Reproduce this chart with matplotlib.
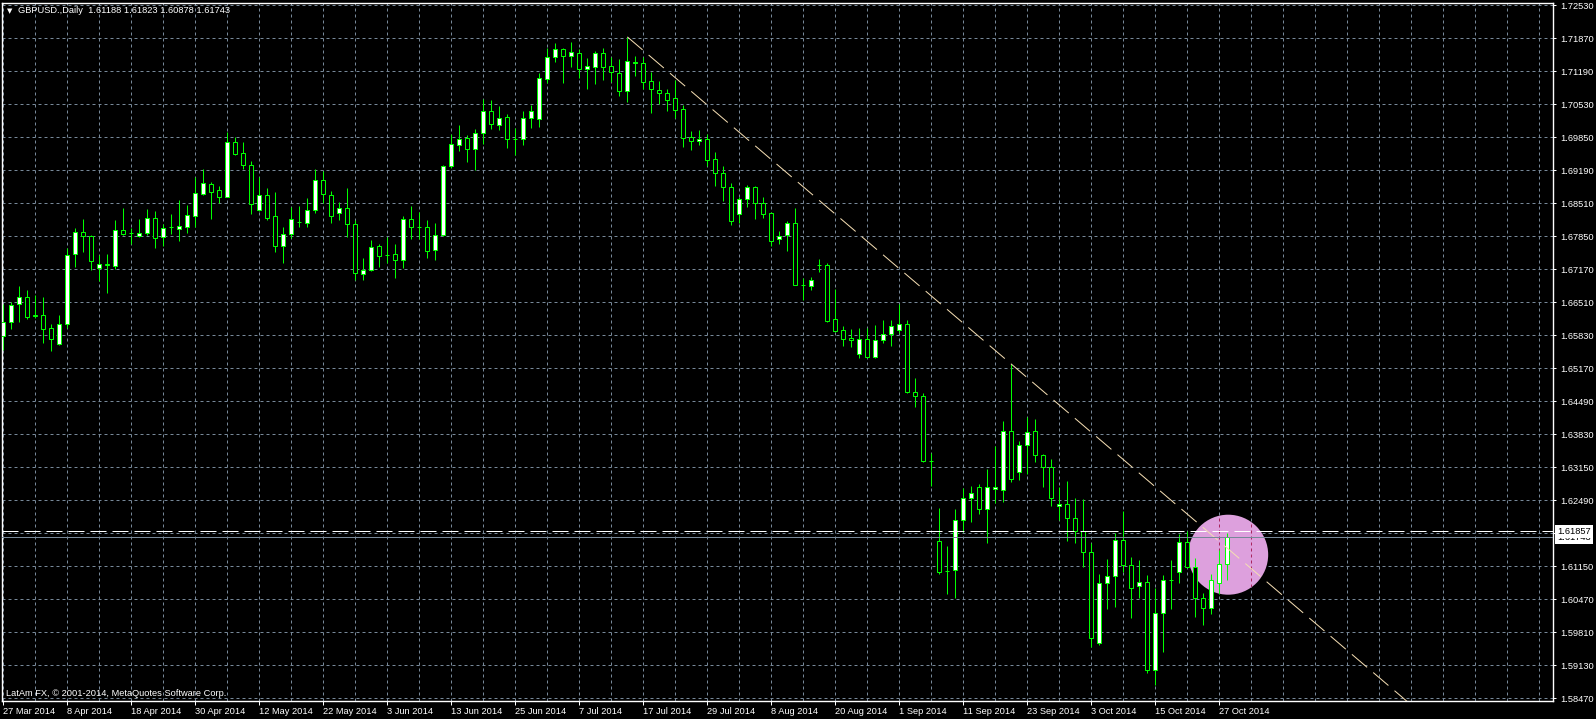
import numpy as np
import matplotlib
matplotlib.use("Agg")
import matplotlib.pyplot as plt
from matplotlib.patches import Ellipse

# GBPUSD daily bars, 27 Mar 2014 .. 28 Oct 2014 (one per business day)
opens = [1.6582, 1.6610, 1.6648, 1.6662, 1.6624, 1.6625, 1.6598, 1.6565, 1.6606, 1.6748,
         1.6793, 1.6785, 1.6721, 1.6728, 1.6725, 1.6797, 1.6792, 1.6785, 1.6791, 1.6821,
         1.6782, 1.6803, 1.6800, 1.6804, 1.6826, 1.6871, 1.6890, 1.6878, 1.6865, 1.6975,
         1.6953, 1.6930, 1.6837, 1.6868, 1.6825, 1.6765, 1.6789, 1.6814, 1.6812, 1.6837,
         1.6898, 1.6868, 1.6831, 1.6841, 1.6809, 1.6708, 1.6715, 1.6764, 1.6747, 1.6748,
         1.6736, 1.6819, 1.6803, 1.6803, 1.6756, 1.6786, 1.6927, 1.6970, 1.6983, 1.6962,
         1.6993, 1.7038, 1.7011, 1.7026, 1.6982, 1.6981, 1.7024, 1.7022, 1.7103, 1.7148,
         1.7164, 1.7151, 1.7156, 1.7124, 1.7128, 1.7156, 1.7129, 1.7115, 1.7080, 1.7135,
         1.7135, 1.7099, 1.7081, 1.7075, 1.7064, 1.7042, 1.6985, 1.6978, 1.6982, 1.6941,
         1.6912, 1.6884, 1.6829, 1.6861, 1.6884, 1.6851, 1.6832, 1.6778, 1.6786, 1.6811,
         1.6686, 1.6684, 1.6726, 1.6726, 1.6616, 1.6594, 1.6579, 1.6545, 1.6577, 1.6539,
         1.6575, 1.6586, 1.6594, 1.6606, 1.6468, 1.6460, 1.6329, 1.6166, 1.6105, 1.6107,
         1.6208, 1.6253, 1.6275, 1.6232, 1.6271, 1.6269, 1.6389, 1.6306, 1.6360, 1.6389,
         1.6340, 1.6316, 1.6237, 1.6241, 1.6212, 1.6186, 1.6143, 1.5960, 1.6082, 1.6095,
         1.6168, 1.6117, 1.6074, 1.6084, 1.5904, 1.6020, 1.6087, 1.6103, 1.6164, 1.6113,
         1.6050, 1.6030, 1.6082, 1.61188]
highs = [1.6648, 1.6652, 1.6684, 1.6675, 1.6665, 1.6662, 1.6606, 1.6625, 1.6760, 1.6801,
         1.6820, 1.6787, 1.6746, 1.6748, 1.6817, 1.6841, 1.6801, 1.6820, 1.6840, 1.6836,
         1.6809, 1.6830, 1.6858, 1.6848, 1.6905, 1.6920, 1.6895, 1.6886, 1.6995, 1.6985,
         1.6975, 1.6937, 1.6905, 1.6882, 1.6874, 1.6804, 1.6843, 1.6846, 1.6863, 1.6920,
         1.6917, 1.6876, 1.6853, 1.6882, 1.6817, 1.6740, 1.6777, 1.6768, 1.6782, 1.6768,
         1.6826, 1.6846, 1.6834, 1.6817, 1.6811, 1.6930, 1.6992, 1.7010, 1.6990, 1.7002,
         1.7063, 1.7061, 1.7049, 1.7032, 1.7004, 1.7039, 1.7051, 1.7116, 1.7166, 1.7176,
         1.7166, 1.7178, 1.7164, 1.7146, 1.7160, 1.7166, 1.7149, 1.7144, 1.7189, 1.7150,
         1.7149, 1.7118, 1.7099, 1.7083, 1.7101, 1.7051, 1.6997, 1.7000, 1.6992, 1.6955,
         1.6927, 1.6892, 1.6865, 1.6888, 1.6887, 1.6865, 1.6834, 1.6795, 1.6815, 1.6841,
         1.6699, 1.6701, 1.6738, 1.6730, 1.6677, 1.6602, 1.6596, 1.6598, 1.6598, 1.6604,
         1.6615, 1.6615, 1.6648, 1.6615, 1.6496, 1.6466, 1.6344, 1.6233, 1.6156, 1.6231,
         1.6273, 1.6278, 1.6282, 1.6312, 1.6359, 1.6410, 1.6525, 1.6369, 1.6418, 1.6414,
         1.6342, 1.6333, 1.6276, 1.6288, 1.6253, 1.6251, 1.6163, 1.6099, 1.6130, 1.6182,
         1.6227, 1.6134, 1.6128, 1.6097, 1.6070, 1.6097, 1.6128, 1.6180, 1.6187, 1.6131,
         1.6060, 1.6099, 1.6148, 1.61823]
lows = [1.6554, 1.6597, 1.6611, 1.6617, 1.6618, 1.6568, 1.6552, 1.6564, 1.6598, 1.6723,
        1.6753, 1.6717, 1.6694, 1.6670, 1.6719, 1.6787, 1.6769, 1.6782, 1.6786, 1.6761,
        1.6765, 1.6789, 1.6775, 1.6792, 1.6804, 1.6869, 1.6820, 1.6851, 1.6864, 1.6950,
        1.6921, 1.6830, 1.6836, 1.6818, 1.6753, 1.6731, 1.6780, 1.6804, 1.6803, 1.6831,
        1.6852, 1.6812, 1.6817, 1.6782, 1.6696, 1.6696, 1.6713, 1.6723, 1.6731, 1.6699,
        1.6721, 1.6779, 1.6779, 1.6740, 1.6736, 1.6784, 1.6922, 1.6958, 1.6936, 1.6919,
        1.6972, 1.7002, 1.7000, 1.6964, 1.6950, 1.6970, 1.7005, 1.7007, 1.7095, 1.7139,
        1.7096, 1.7128, 1.7106, 1.7084, 1.7093, 1.7101, 1.7097, 1.7068, 1.7057, 1.7110,
        1.7083, 1.7035, 1.7053, 1.7039, 1.7024, 1.6965, 1.6959, 1.6970, 1.6927, 1.6887,
        1.6857, 1.6807, 1.6811, 1.6844, 1.6820, 1.6822, 1.6765, 1.6769, 1.6755, 1.6685,
        1.6655, 1.6675, 1.6711, 1.6611, 1.6591, 1.6562, 1.6559, 1.6537, 1.6537, 1.6537,
        1.6567, 1.6562, 1.6588, 1.6466, 1.6439, 1.6327, 1.6278, 1.6099, 1.6059, 1.6051,
        1.6185, 1.6204, 1.6220, 1.6162, 1.6244, 1.6246, 1.6285, 1.6289, 1.6302, 1.6327,
        1.6276, 1.6237, 1.6209, 1.6167, 1.6162, 1.6113, 1.5952, 1.5955, 1.6028, 1.6032,
        1.6103, 1.6009, 1.6051, 1.5898, 1.5874, 1.5942, 1.6029, 1.6080, 1.6111, 1.6011,
        1.5995, 1.6018, 1.6059, 1.60878]
closes = [1.6611, 1.6645, 1.6662, 1.6621, 1.6622, 1.6597, 1.6577, 1.6606, 1.6746, 1.6793,
          1.6784, 1.6735, 1.6728, 1.6727, 1.6797, 1.6790, 1.6792, 1.6791, 1.6821, 1.6780,
          1.6801, 1.6803, 1.6805, 1.6827, 1.6872, 1.6892, 1.6875, 1.6865, 1.6975, 1.6952,
          1.6930, 1.6849, 1.6868, 1.6822, 1.6765, 1.6789, 1.6819, 1.6814, 1.6837, 1.6898,
          1.6870, 1.6825, 1.6841, 1.6809, 1.6709, 1.6716, 1.6762, 1.6745, 1.6747, 1.6736,
          1.6819, 1.6804, 1.6803, 1.6755, 1.6786, 1.6928, 1.6971, 1.6981, 1.6962, 1.6993,
          1.7038, 1.7013, 1.7025, 1.6982, 1.6982, 1.7024, 1.7038, 1.7105, 1.7149, 1.7164,
          1.7151, 1.7159, 1.7124, 1.7129, 1.7156, 1.7128, 1.7118, 1.7080, 1.7141, 1.7139,
          1.7098, 1.7084, 1.7075, 1.7061, 1.7041, 1.6984, 1.6978, 1.6981, 1.6940, 1.6912,
          1.6884, 1.6816, 1.6861, 1.6884, 1.6851, 1.6830, 1.6775, 1.6784, 1.6811, 1.6686,
          1.6686, 1.6696, 1.6726, 1.6613, 1.6593, 1.6577, 1.6573, 1.6577, 1.6539, 1.6575,
          1.6586, 1.6602, 1.6606, 1.6468, 1.6460, 1.6329, 1.6329, 1.6103, 1.6105, 1.6208,
          1.6253, 1.6263, 1.6232, 1.6275, 1.6275, 1.6389, 1.6291, 1.6360, 1.6387, 1.6340,
          1.6316, 1.6253, 1.6241, 1.6212, 1.6186, 1.6143, 1.5969, 1.6082, 1.6095, 1.6168,
          1.6117, 1.6070, 1.6084, 1.5904, 1.6020, 1.6087, 1.6087, 1.6164, 1.6113, 1.6050,
          1.6030, 1.6087, 1.6119, 1.61743]

date_labels = ["27 Mar 2014", "8 Apr 2014", "18 Apr 2014", "30 Apr 2014", "12 May 2014",
               "22 May 2014", "3 Jun 2014", "13 Jun 2014", "25 Jun 2014", "7 Jul 2014",
               "17 Jul 2014", "29 Jul 2014", "8 Aug 2014", "20 Aug 2014", "1 Sep 2014",
               "11 Sep 2014", "23 Sep 2014", "3 Oct 2014", "15 Oct 2014", "27 Oct 2014"]

grid_prices = [1.72530, 1.71861, 1.71191, 1.70522, 1.69852, 1.69183, 1.68513, 1.67844,
               1.67174, 1.66505, 1.65835, 1.65166, 1.64496, 1.63827, 1.63157, 1.62488,
               1.61818, 1.61149, 1.60479, 1.59810, 1.59140, 1.58471]
price_labels = ["1.72530", "1.71870", "1.71190", "1.70530", "1.69850", "1.69190", "1.68510",
                "1.67850", "1.67170", "1.66510", "1.65830", "1.65170", "1.64490", "1.63830",
                "1.63150", "1.62490", "", "1.61150", "1.60470", "1.59810", "1.59130", "1.58470"]

level_price = 1.61857
trend_from, trend_to = 78, 126   # bars whose highs the trendline joins

plt.rcParams['font.family'] = ['Liberation Sans', 'DejaVu Sans']
FS = 6.7
PX = 0.72            # one pixel in points at dpi 100
LIME = '#00FF00'
GRID = '#778899'

W, H = 1596, 719
fig = plt.figure(figsize=(W / 100, H / 100), dpi=100, facecolor='black')
ax = fig.add_axes([2 / W, 1 - 700.7 / H, 1551 / W, 698 / H])
ax.set_facecolor('black')
ax.set_xlim(-0.16, 193.7)
ax.set_ylim(1.58422, 1.72583)

# dashed grid
for p in grid_prices:
    ax.axhline(p, color=GRID, lw=PX, ls=(0, (3, 3)), zorder=1)
vgrid = list(range(0, 194, 4))
for b in vgrid:
    ax.axvline(b, color=GRID, lw=PX, ls=(0, (3, 3)), zorder=1)

# highlight circle
circle = Ellipse((153.1, 1.61384), 10, 0.01623, facecolor='#DDA0DD', edgecolor='none', zorder=1.5)
ax.add_patch(circle)
for b in vgrid:
    ln = ax.axvline(b, color='#A8245E', lw=PX, ls=(0, (3, 3)), zorder=1.6)
    ln.set_clip_path(circle)

# candles
x = np.arange(len(opens))
o = np.array(opens)
c = np.array(closes)
fills = ['white' if cc > oo else 'black' for oo, cc in zip(o, c)]
ax.vlines(x, lows, highs, color=LIME, lw=PX, zorder=2)
ax.bar(x, c - o, bottom=o, width=0.5, color=fills, edgecolor=LIME, linewidth=PX, zorder=3)

# trendline through two highs
slope = (highs[trend_to] - highs[trend_from]) / (trend_to - trend_from)
tx = np.array([trend_from, 200])
ax.plot(tx, highs[trend_from] + slope * (tx - trend_from), color='#F5DEB3', lw=PX,
        ls=(0, (20, 8)), zorder=4)

# horizontal level and bid line
ax.axhline(level_price, color='white', lw=PX, ls=(0, (16, 6)), zorder=4)
ax.axhline(closes[-1], color=GRID, lw=PX, zorder=4)

for s in ax.spines.values():
    s.set_color('white')
    s.set_linewidth(PX * 1.4)

ax.yaxis.tick_right()
ax.set_yticks(grid_prices)
ax.set_yticklabels(price_labels)
ax.set_xticks(range(0, 8 * len(date_labels), 8))
ax.set_xticklabels(date_labels, ha='left')
ax.tick_params(axis='both', colors='white', labelcolor='white', labelsize=FS, width=PX)
ax.tick_params(axis='y', length=2.5, pad=2.5)
ax.tick_params(axis='x', length=3, pad=1.5)

# price boxes on the right scale
for val, txt in [(closes[-1], f"{closes[-1]:.5f}"), (level_price, f"{level_price:.5f}")]:
    ax.annotate(txt, xy=(1, val), xycoords=('axes fraction', 'data'), xytext=(3, 0),
                textcoords='offset points', ha='left', va='center', fontsize=FS, color='black',
                annotation_clip=False, zorder=6,
                bbox=dict(boxstyle='square,pad=0.25', fc='white', ec='none'))

# header and footer
fig.text(7 / W, 1 - 10.7 / H, '\u25bc', color='white', fontsize=5, va='center',
         family='DejaVu Sans')
fig.text(18 / W, 1 - 10.7 / H,
         f"GBPUSD.,Daily  {opens[-1]:.5f} {highs[-1]:.5f} {lows[-1]:.5f} {closes[-1]:.5f}",
         color='white', fontsize=FS, va='center')
fig.text(6 / W, 1 - 693 / H, "LatAm FX, \u00a9 2001-2014, MetaQuotes Software Corp.",
         color='white', fontsize=FS, va='center')

fig.savefig('out.png', dpi=100, facecolor='black')
